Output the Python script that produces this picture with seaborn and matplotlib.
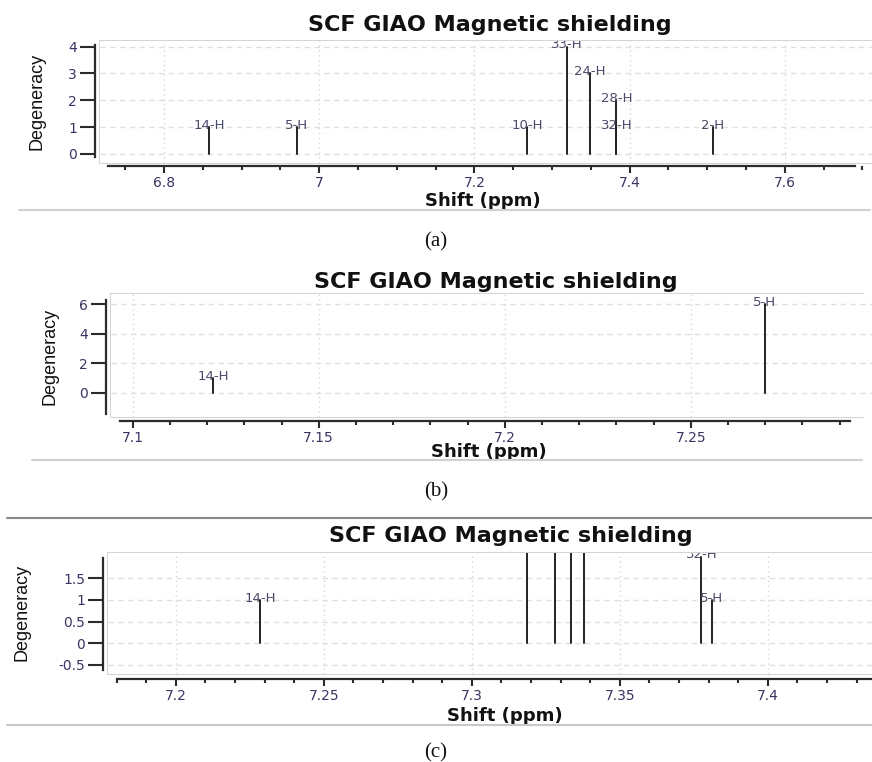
import numpy as np
import pandas as pd
import matplotlib
matplotlib.use("Agg")
import matplotlib.pyplot as plt
from matplotlib.ticker import MultipleLocator, FormatStrFormatter
from matplotlib.lines import Line2D
import seaborn as sns

# ---------------- data ----------------
title_text = "SCF GIAO Magnetic shielding"
xlabel_text = "Shift (ppm)"
ylabel_text = "Degeneracy"

a_peaks = ["14-H", "5-H", "10-H", "33-H", "24-H", "28-H", "32-H", "2-H"]
a_shift = [6.858, 6.971, 7.268, 7.319, 7.349, 7.383, 7.383, 7.507]
a_deg = [1, 1, 1, 4, 3, 2, 1, 1]

b_peaks = ["14-H", "5-H"]
b_shift = [7.1216, 7.2699]
b_deg = [1, 6]

c_peaks = ["14-H", "", "", "", "", "32-H", "5-H"]
c_shift = [7.2285, 7.3187, 7.3283, 7.3337, 7.3380, 7.3776, 7.3811]
c_deg = [1, 4, 3, 3, 3, 2, 1]

a_yticks = [0, 1, 2, 3, 4]
b_yticks = [0, 2, 4, 6]
c_yticks = [-0.5, 0, 0.5, 1, 1.5]

captions = ["(a)", "(b)", "(c)"]

# ---------------- style ----------------
sns.set_theme(style="white")
plt.rcParams["font.family"] = ["DejaVu Sans"]
plt.rcParams["axes.unicode_minus"] = False

W, H = 872, 762
fig = plt.figure(figsize=(W / 100, H / 100), dpi=100)


def fx(x):
    return x / W


def fy(y):
    return 1 - y / H


TICK_COLOR = "#3a3462"
LABEL_COLOR = "#4a4a6a"
DARK = "#2b2b2b"
GRID = "#d6d6d6"
FRAME = "#d4d4d4"

panels = [
    dict(peaks=a_peaks, shift=a_shift, deg=a_deg, yticks=a_yticks,
         box=(100, 40.7, 872, 163.3), frame_r=872, x0=(6.8, 164.0), ppx=776.0,
         ylim=(-0.35, 4.22), lsp=(-0.1, 4.06), bsp=(6.728, 7.690),
         bout=2.7, major=0.2, minor=0.05,
         title=(490, 25), xlab=(483, 201), ylab=(37, 101), cap=(436, 242)),
    dict(peaks=b_peaks, shift=b_shift, deg=b_deg, yticks=b_yticks,
         box=(111, 294.3, 872, 416.7), frame_r=863, x0=(7.1, 132.7), ppx=3720.0,
         ylim=(-1.63, 6.68), lsp=(-1.45, 6.3), bsp=(7.0966, 7.2927),
         bout=4.6, major=0.05, minor=0.01,
         title=(496, 281.7), xlab=(489, 452.3), ylab=(50, 356), cap=(436, 492)),
    dict(peaks=c_peaks, shift=c_shift, deg=c_deg, yticks=c_yticks,
         box=(108.3, 552.7, 872, 674), frame_r=872, x0=(7.2, 175.7), ppx=2960.0,
         ylim=(-0.71, 2.09), lsp=(-0.62, 1.96), bsp=(7.180, 7.4352),
         bout=5.3, major=0.05, minor=0.01,
         title=(511, 536), xlab=(505, 715.7), ylab=(21.7, 612.5), cap=(436, 753)),
]

for i, p in enumerate(panels):
    l, t, r, b = p["box"]
    ax = fig.add_axes([fx(l), fy(b), (r - l) / W, (b - t) / H])
    xv, xp = p["x0"]
    ax.set_xlim(xv - (xp - l) / p["ppx"], xv + (r - xp) / p["ppx"])
    ax.set_ylim(*p["ylim"])

    # stems drawn through seaborn
    rows = []
    for k, (s, d) in enumerate(zip(p["shift"], p["deg"])):
        rows.append({"peak": k, "shift": s, "deg": 0.0})
        rows.append({"peak": k, "shift": s, "deg": float(d)})
    df = pd.DataFrame(rows)
    sns.lineplot(data=df, x="shift", y="deg", units="peak", estimator=None,
                 sort=False, color="#222222", linewidth=1.4, ax=ax,
                 legend=False, zorder=3)

    for name, s, d in zip(p["peaks"], p["shift"], p["deg"]):
        if name:
            ax.annotate(name, (s, d), xytext=(0, 1.2), textcoords="offset points",
                        ha="center", va="center", fontsize=9.5,
                        color=LABEL_COLOR, clip_on=True, zorder=4,
                        annotation_clip=True)

    # ticks / grid
    ax.xaxis.set_major_locator(MultipleLocator(p["major"]))
    ax.xaxis.set_minor_locator(MultipleLocator(p["minor"]))
    ax.xaxis.set_major_formatter(FormatStrFormatter("%g"))
    ax.set_yticks(p["yticks"])
    ax.yaxis.set_major_formatter(FormatStrFormatter("%g"))
    ax.grid(axis="x", which="major", linestyle=(0, (1, 2.5)), color=GRID, linewidth=1.0)
    ax.grid(axis="y", which="major", linestyle=(0, (4, 3)), color="#e0e0dc", linewidth=1.0)
    ax.set_axisbelow(True)

    # light plot-area frame (top, left, bottom edges)
    fr = p["frame_r"]
    for xs, ys in [((l, fr), (t, t)), ((l, l), (t, b)), ((l, fr), (b, b))]:
        fig.add_artist(Line2D([fx(xs[0]), fx(xs[1])], [fy(ys[0]), fy(ys[1])],
                              transform=fig.transFigure, color=FRAME, linewidth=1.5,
                              zorder=0))

    # spines
    for side in ("top", "right"):
        ax.spines[side].set_visible(False)
    ax.spines["left"].set_position(("outward", 5 * 0.72))
    ax.spines["bottom"].set_position(("outward", p["bout"] * 0.72))
    ax.spines["left"].set_bounds(*p["lsp"])
    ax.spines["bottom"].set_bounds(*p["bsp"])
    for side in ("left", "bottom"):
        ax.spines[side].set_color(DARK)
        ax.spines[side].set_linewidth(1.6)

    ax.tick_params(axis="x", which="major", direction="out", length=5, width=1.5,
                   color=DARK, labelsize=10, labelcolor=TICK_COLOR, pad=2, bottom=True)
    ax.tick_params(axis="x", which="minor", direction="out", length=3, width=1.5,
                   color=DARK, bottom=True)
    ax.tick_params(axis="y", which="major", direction="out", length=11, width=1.5,
                   color=DARK, labelsize=10, labelcolor=TICK_COLOR, pad=2, left=True)

    # labels
    ax.set_xlabel(xlabel_text, fontsize=13, fontweight="bold", color="#111111")
    ax.xaxis.set_label_coords(fx(p["xlab"][0]), fy(p["xlab"][1]), transform=fig.transFigure)
    ax.xaxis.label.set_va("center")
    ax.set_ylabel(ylabel_text, fontsize=13, color="#111111",
                  family=["Liberation Sans Narrow", "Liberation Sans"])
    ax.yaxis.set_label_coords(fx(p["ylab"][0]), fy(p["ylab"][1]), transform=fig.transFigure)
    ax.yaxis.label.set_va("center")
    ax.yaxis.label.set_ha("center")

    fig.text(fx(p["title"][0]), fy(p["title"][1]), title_text, ha="center", va="center",
             fontsize=16, fontweight="bold", color="#111111")
    fig.text(fx(p["cap"][0]), fy(p["cap"][1]), captions[i], ha="center", va="center",
             fontsize=15, family=["Liberation Serif", "DejaVu Serif"], color="#111111")

# separator lines
for (x1, x2, y, col) in [(19, 870, 210, "#d0d0d0"), (32, 862, 460, "#d0d0d0"),
                         (7, 872, 518.3, "#8a8a8a"), (7, 872, 725, "#c8c8c8")]:
    fig.add_artist(Line2D([fx(x1), fx(x2)], [fy(y), fy(y)], transform=fig.transFigure,
                          color=col, linewidth=1.5))

fig.savefig("out.png", dpi=100, facecolor="white")
